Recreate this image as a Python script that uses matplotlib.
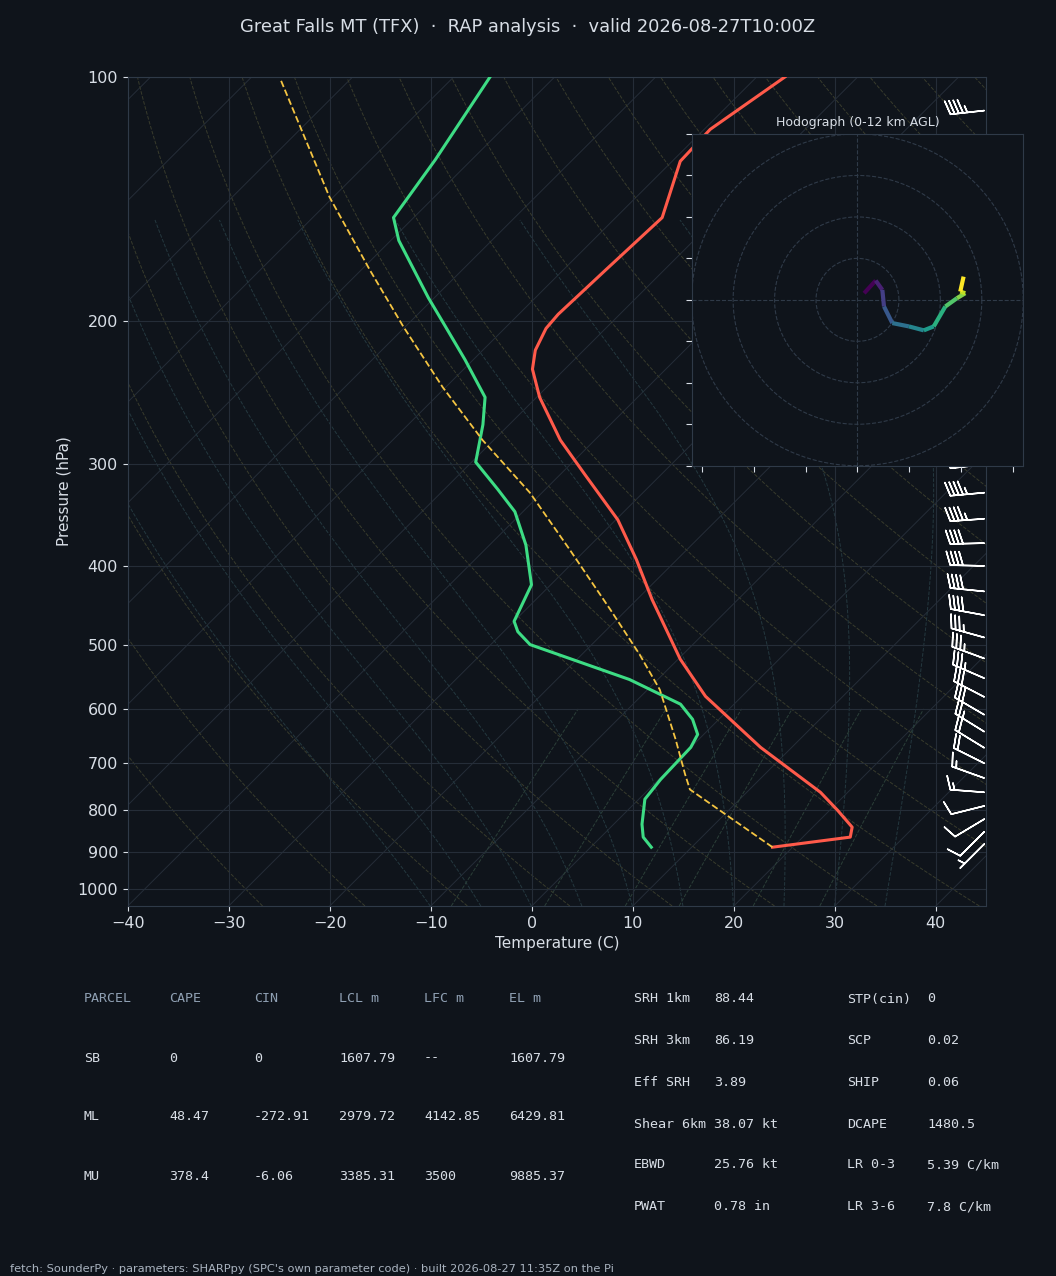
import numpy as np
import matplotlib
matplotlib.use("Agg")
import matplotlib.pyplot as plt
from matplotlib.collections import LineCollection

# sounding data (hPa, degC)
p_temp = [888, 863, 839, 800, 760, 669, 579, 521, 440, 393, 351, 309, 280, 248, 229, 217, 204, 196, 173, 149, 127, 116, 100]
t_temp = [18.0, 24.7, 23.9, 20.8, 17.3, 6.9, -3.6, -9.8, -18.5, -24.0, -29.8, -37.5, -43.4, -49.7, -53.2, -54.8, -55.9, -56.1, -55.8, -55.4, -59.2, -59.4, -57.2]
p_dew = [888, 863, 832, 775, 733, 669, 645, 618, 592, 552, 500, 482, 468, 422, 377, 343, 322, 298, 268, 248, 223, 202, 187, 159, 149, 126.5, 100]
t_dew = [6.0, 4.2, 2.8, 0.6, 0.2, 0.0, -0.6, -2.6, -5.3, -12.8, -26.1, -28.6, -30.0, -31.9, -36.4, -40.8, -44.7, -49.6, -52.6, -55.1, -60.8, -66.3, -70.6, -79.2, -82.0, -83.6, -86.4]
p_parcel = [888, 754, 722, 654, 568, 514, 453, 382, 325, 280, 241, 203, 173, 140.5, 100.9]
t_parcel = [18.0, 4.1, 2.1, -2.3, -8.8, -14.3, -21.6, -31.6, -41.2, -51.1, -60.3, -70.2, -79.1, -90.4, -106.8]

# winds (kt)
p_barb = [880, 850, 820, 790, 760, 730, 700, 670, 640, 610, 580, 550, 520, 490, 460, 430, 400, 375, 350, 325, 300, 110]
u_barb = [4, 8, 10, 12, 13, 14, 16, 18, 21, 24, 27, 30, 33, 36, 38, 40, 42, 42, 43, 44, 44, 45]
v_barb = [4, 8, 6, 3, -1, -5, -8, -11, -13, -14, -14, -13, -12, -10, -7, -4, -1, 1, 3, 4, 5, 5]
hodo_u = [3.2, 8.8, 12.0, 12.8, 16.8, 24.8, 32.0, 36.8, 42.4, 48.0, 52.0, 49.6, 51.2]
hodo_v = [3.2, 9.3, 4.8, -3.2, -11.2, -12.8, -14.7, -12.8, -3.2, 0.8, 3.2, 4.0, 11.2]
hodo_h = [0, 1, 2, 3, 4, 5, 6, 7, 8, 9, 10, 11, 12]

parcel_hdr = ["PARCEL", "CAPE", "CIN", "LCL m", "LFC m", "EL m"]
parcel_rows = [["SB", "0", "0", "1607.79", "--", "1607.79"],
               ["ML", "48.47", "-272.91", "2979.72", "4142.85", "6429.81"],
               ["MU", "378.4", "-6.06", "3385.31", "3500", "9885.37"]]
idx_left = [("SRH 1km", "88.44"), ("SRH 3km", "86.19"), ("Eff SRH", "3.89"),
            ("Shear 6km", "38.07 kt"), ("EBWD", "25.76 kt"), ("PWAT", "0.78 in")]
idx_right = [("STP(cin)", "0"), ("SCP", "0.02"), ("SHIP", "0.06"),
             ("DCAPE", "1480.5"), ("LR 0-3", "5.39 C/km"), ("LR 3-6", "7.8 C/km")]

BG = "#0f141b"
FG = "#d8dee6"
P0 = 1049.0
K = 35.0

def skew(t, p):
    return np.asarray(t) + K * np.log(P0 / np.asarray(p))

fig = plt.figure(figsize=(10.56, 12.76), dpi=100, facecolor=BG)
ax = fig.add_axes([0.121, 0.290, 0.813, 0.6497], facecolor=BG)
ax.set_yscale("log")
ax.set_ylim(P0, 100)
ax.set_xlim(-40, 45)

pp = np.geomspace(P0, 100, 200)
# isotherms
for t0 in range(-160, 60, 10):
    ax.plot(skew(t0, pp), pp, color="#252d38", lw=0.7, zorder=1)
# dry adiabats
for th in range(-30, 200, 10):
    tk = (th + 273.15) * (pp / 1000.0) ** 0.2857 - 273.15
    ax.plot(skew(tk, pp), pp, color="#383b2c", lw=0.7, ls="--", zorder=1)
# moist adiabats
def es(t):
    return 6.112 * np.exp(17.67 * t / (t + 243.5))
for t0 in range(-10, 40, 5):
    ps = np.geomspace(1050, 150, 300)
    ts = [float(t0)]
    for i in range(1, len(ps)):
        t = ts[-1]
        tk = t + 273.15
        rs = 0.622 * es(t) / (ps[i - 1] - es(t))
        num = 287 * tk + 2.5e6 * rs
        den = 1004 + 2.5e6 ** 2 * rs * 0.622 / (287 * tk ** 2)
        ts.append(t + num / den / ps[i - 1] * (ps[i] - ps[i - 1]))
    ax.plot(skew(np.array(ts), ps), ps, color="#24383f", lw=0.7, ls="--", zorder=1)
# mixing ratio lines
pm = np.geomspace(P0, 600, 50)
for w in [2, 4, 7, 10, 16, 24]:
    e = w / 1000 * pm / (0.622 + w / 1000)
    td = 243.5 * np.log(e / 6.112) / (17.67 - np.log(e / 6.112))
    ax.plot(skew(td, pm), pm, color="#2b3f38", lw=0.7, ls="--", zorder=1)

ax.plot(skew(t_temp, p_temp), p_temp, color="#ff5a4a", lw=2.2, zorder=4)
ax.plot(skew(t_dew, p_dew), p_dew, color="#3ddc84", lw=2.2, zorder=4)
ax.plot(skew(t_parcel, p_parcel), p_parcel, color="#f5c542", lw=1.3, ls="--", zorder=4)

ax.barbs(np.full(len(p_barb), 44.8), p_barb, u_barb, v_barb, color="white",
         length=7, lw=1.1, zorder=5, clip_on=False)

yt = [100, 200, 300, 400, 500, 600, 700, 800, 900, 1000]
ax.set_yticks(yt)
ax.set_yticklabels([str(v) for v in yt])
ax.yaxis.set_minor_locator(matplotlib.ticker.NullLocator())
ax.set_xticks(range(-40, 50, 10))
ax.set_xticklabels(["\u2212" + str(-v) if v < 0 else str(v) for v in range(-40, 50, 10)])
ax.grid(True, color="#252d38", lw=0.8)
ax.tick_params(colors=FG, labelsize=11.5)
for s in ax.spines.values():
    s.set_color("#2f3a48")
ax.set_xlabel("Temperature (C)", color=FG, fontsize=11)
ax.set_ylabel("Pressure (hPa)", color=FG, fontsize=11)

# hodograph
hx = fig.add_axes([0.655, 0.635, 0.314, 0.260], facecolor=BG)
hx.set_xlim(-80, 80)
hx.set_ylim(-80, 80)
ang = np.linspace(0, 2 * np.pi, 200)
for r in [20, 40, 60, 80]:
    hx.plot(r * np.cos(ang), r * np.sin(ang), color="#2f3a48", lw=0.8, ls="--")
hx.axhline(0, color="#2f3a48", lw=0.8, ls="--")
hx.axvline(0, color="#2f3a48", lw=0.8, ls="--")
pts = np.column_stack([hodo_u, hodo_v]).reshape(-1, 1, 2)
segs = np.concatenate([pts[:-1], pts[1:]], axis=1)
lc = LineCollection(segs, cmap="viridis", linewidths=3)
lc.set_array(np.array(hodo_h[:-1], dtype=float))
hx.add_collection(lc)
hx.set_xticks(range(-75, 80, 25))
hx.set_yticks(range(-80, 81, 20))
hx.set_xticklabels([])
hx.set_yticklabels([])
hx.tick_params(colors=FG, length=4, direction="out")
for s in hx.spines.values():
    s.set_color("#2f3a48")
hx.set_title("Hodograph (0-12 km AGL)", color=FG, fontsize=9, pad=6)

fig.text(0.5, 1 - 27 / 1276, "Great Falls MT (TFX)  \u00b7  RAP analysis  \u00b7  valid 2026-08-27T10:00Z",
         ha="center", va="center", color=FG, fontsize=12.9)

mono = "DejaVu Sans Mono"
HDR = "#8fa0b3"
FS = 9.6
cols = [84, 169, 254, 339, 424, 509]
for x, h in zip(cols, parcel_hdr):
    fig.text(x / 1056, 1 - 999 / 1276, h, family=mono, color=HDR, fontsize=FS, va="center")
for ry, row in zip([1058, 1117, 1176], parcel_rows):
    for x, v in zip(cols, row):
        fig.text(x / 1056, 1 - ry / 1276, v, family=mono, color=FG, fontsize=FS, va="center")
rows_y = [999, 1041, 1082, 1124, 1165, 1207]
for ry, (a, b), (c, d) in zip(rows_y, idx_left, idx_right):
    fig.text(634 / 1056, 1 - ry / 1276, a, family=mono, color=FG, fontsize=FS, va="center")
    fig.text(714 / 1056, 1 - ry / 1276, b, family=mono, color=FG, fontsize=FS, va="center")
    fig.text(847 / 1056, 1 - ry / 1276, c, family=mono, color=FG, fontsize=FS, va="center")
    fig.text(927 / 1056, 1 - ry / 1276, d, family=mono, color=FG, fontsize=FS, va="center")

fig.text(10 / 1056, 1 - 1269 / 1276,
         "fetch: SounderPy \u00b7 parameters: SHARPpy (SPC's own parameter code) \u00b7 built 2026-08-27 11:35Z on the Pi",
         color="#aab4c0", fontsize=8.2, va="center")

fig.savefig("out.png", dpi=100, facecolor=BG)
